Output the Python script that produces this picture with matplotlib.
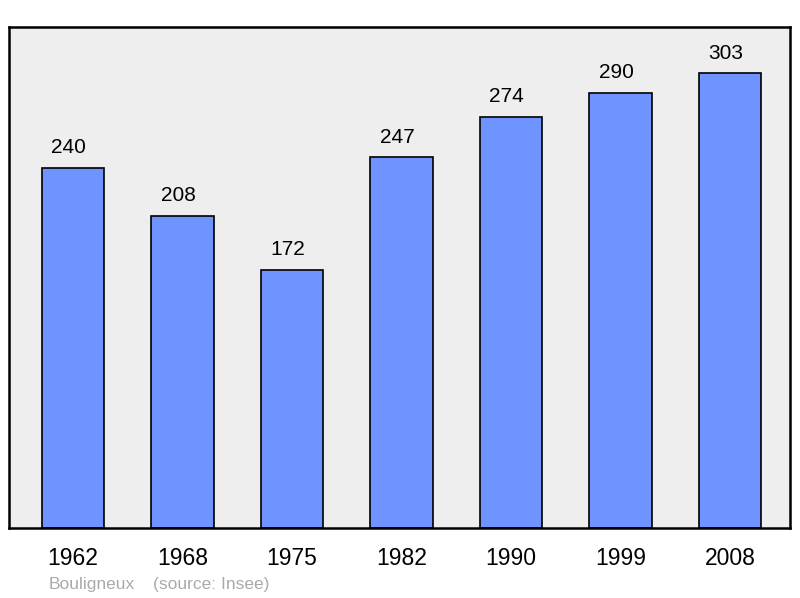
import matplotlib.pyplot as plt

years = ["1962", "1968", "1975", "1982", "1990", "1999", "2008"]
population = [240, 208, 172, 247, 274, 290, 303]

plt.rcParams['font.family'] = ['Liberation Sans', 'DejaVu Sans']

fig = plt.figure(figsize=(8, 5.98), dpi=100)
ax = fig.add_axes([0.01125, 0.117, 0.97625, 0.838])
ax.set_facecolor("#eeeeee")

x = range(len(years))
ax.bar(x, population, width=0.57, color="#7094ff", edgecolor="black", linewidth=1.2, zorder=2)
for xi, v in zip(x, population):
    ax.text(xi - 0.04, v + 7, str(v), ha="center", va="bottom", fontsize=15, color="black")

ax.set_xlim(-0.584, 6.548)
ax.set_ylim(0, 334)
ax.set_yticks([])
ax.set_xticks(list(x))
ax.set_xticklabels(years, fontsize=16.5)
ax.tick_params(axis="x", length=0, pad=14)
for s in ax.spines.values():
    s.set_linewidth(1.8)
    s.set_color("black")

fig.text(49 / 800, 1 - 584 / 598, "Bouligneux", color="#aaaaaa", fontsize=12.5, va="center")
fig.text(153 / 800, 1 - 584 / 598, "(source: Insee)", color="#aaaaaa", fontsize=12.5, va="center")

fig.savefig("out.png", dpi=100)
